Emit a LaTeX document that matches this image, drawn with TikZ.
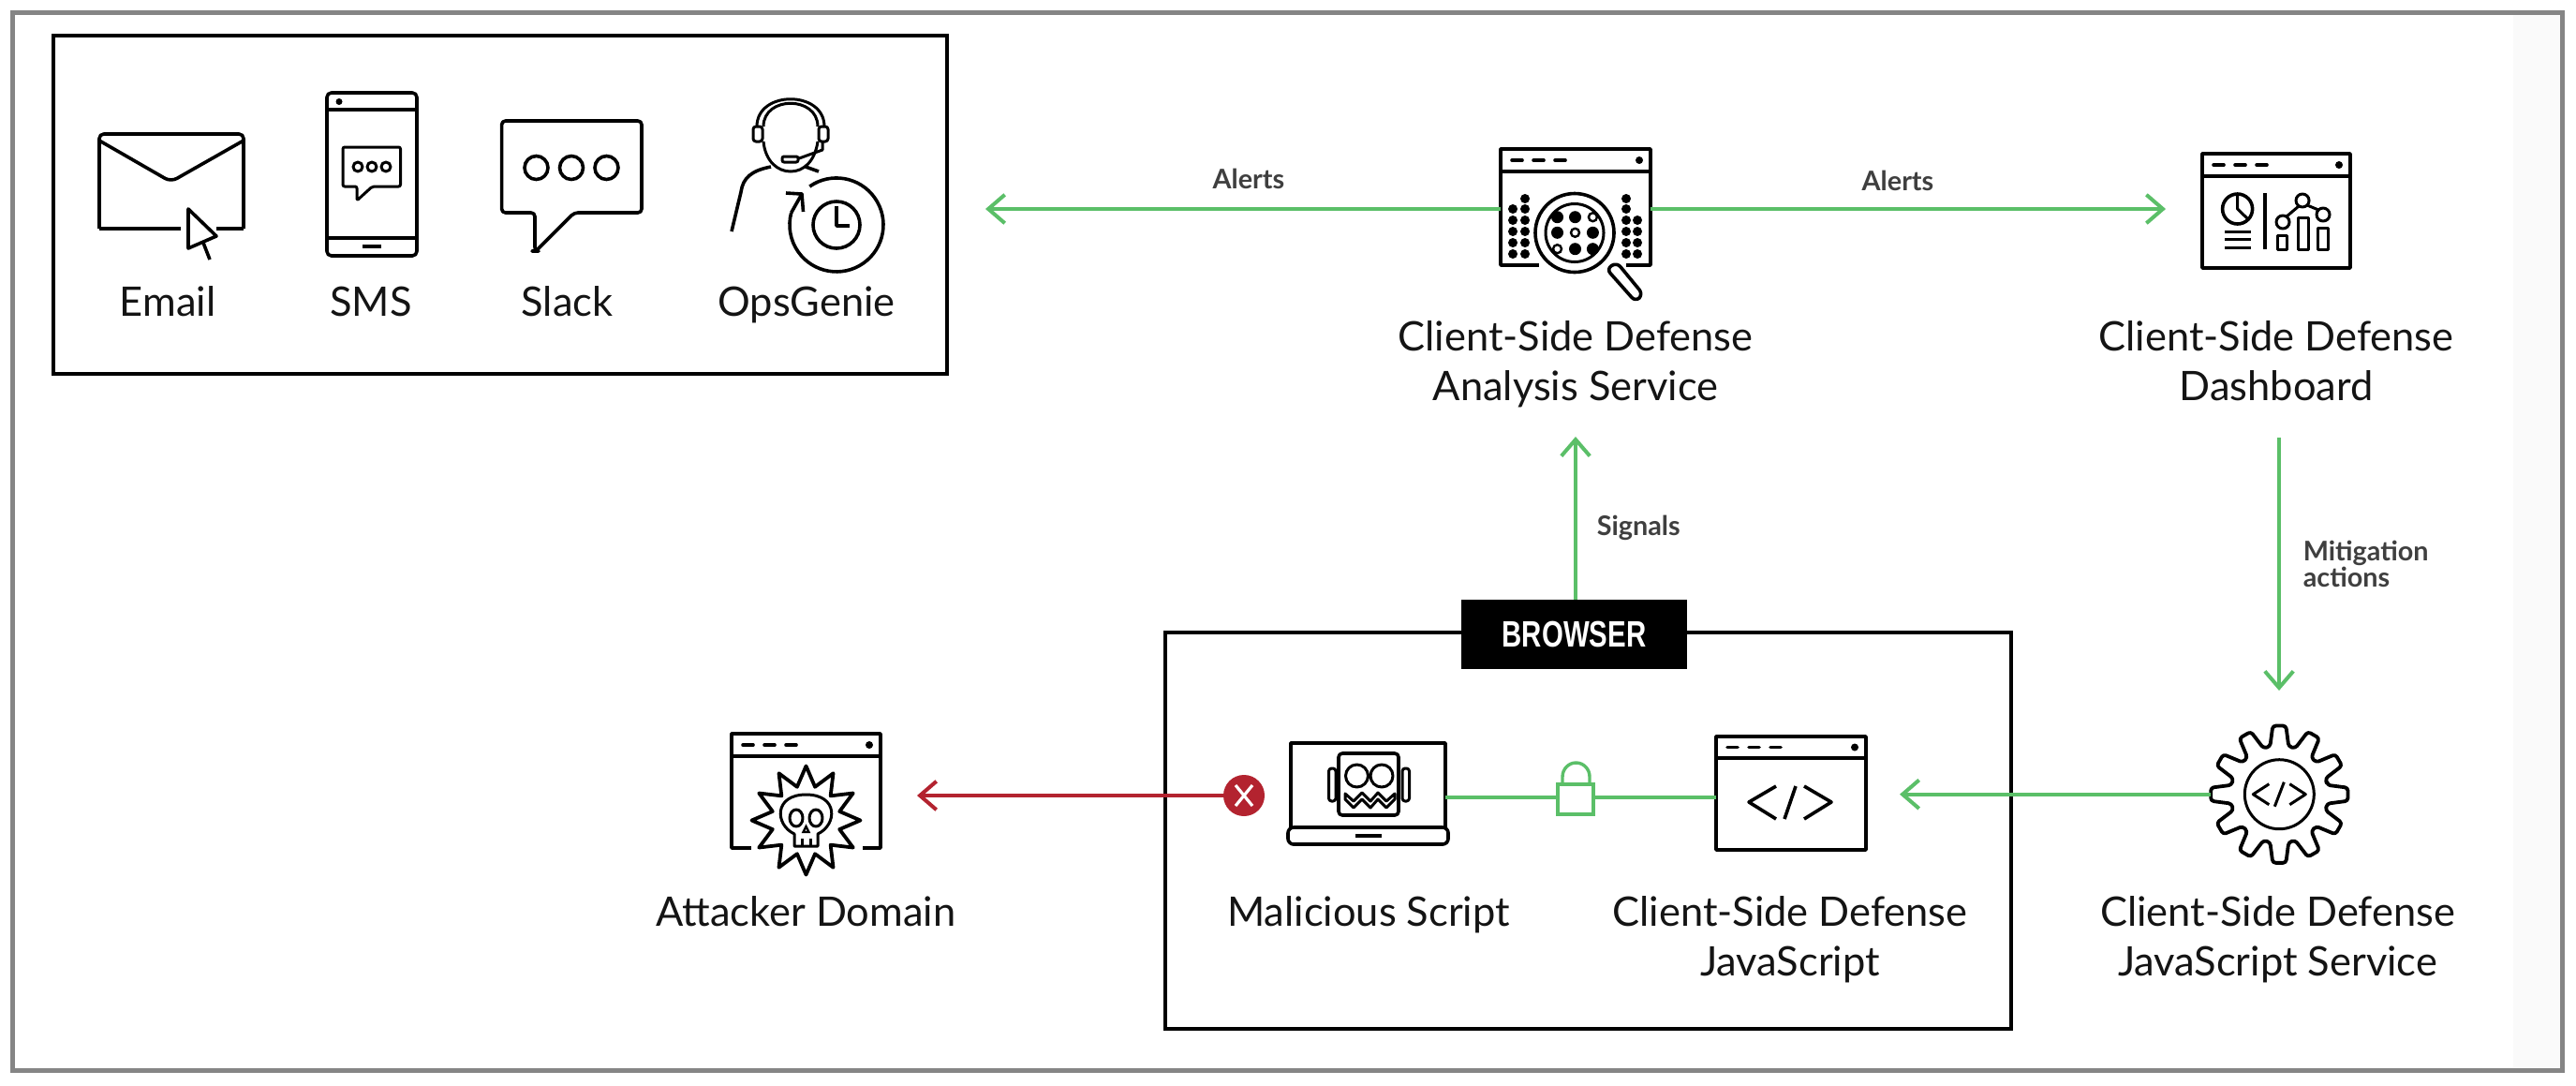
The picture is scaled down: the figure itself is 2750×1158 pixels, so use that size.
\documentclass[tikz,border=0pt]{standalone}
\usepackage{fontspec}
\setmainfont{Lato}
\newfontfamily\tagfont{Liberation Sans}[BoldFont={Liberation Sans Bold}]
\usetikzlibrary{arrows.meta}
\definecolor{gline}{HTML}{5BBF68}
\definecolor{rline}{HTML}{B3232F}
\definecolor{frameg}{HTML}{858585}
\definecolor{labelg}{HTML}{3F3F3F}
\definecolor{paleb}{HTML}{FAFAFA}
\tikzset{
  ico/.style={line width=0.9pt,draw=black,line join=round},
  thinico/.style={line width=0.75pt,draw=black,line join=round},
  boxline/.style={line width=1pt,draw=black},
  hook/.style 2 args={minimum width=#1*0.25pt,minimum height=#2*0.25pt,inner sep=0pt,outer sep=0pt},
  big/.style={font=\fontsize{10.85}{13.25}\selectfont,align=center,text=black!92,inner sep=0pt},
  small/.style={font=\fontsize{7.2}{7.2}\bfseries\selectfont,align=left,text=labelg,inner sep=0pt},
  garrow/.style={draw=gline,line width=1pt,-{Straight Barb[length=4.4pt,width=7.6pt,line width=1pt]}},
  gplain/.style={draw=gline,line width=1pt},
  rarrow/.style={draw=rline,line width=1pt,-{Straight Barb[length=4.4pt,width=7.6pt,line width=1pt]}},
}
% top bar of a window icon: left, top, right, bar y
\newcommand{\wintop}[4]{%
  \draw[ico] (#1,#4) -- (#1,#2) -- (#3,#2) -- (#3,#4);
  \draw[ico] (#1,#4) -- (#3,#4);
  \draw[line width=0.9pt,line cap=round] (#1+12,{(#2+#4)/2}) -- (#1+23,{(#2+#4)/2})
     (#1+35,{(#2+#4)/2}) -- (#1+46,{(#2+#4)/2}) (#1+58,{(#2+#4)/2}) -- (#1+69,{(#2+#4)/2});
  \fill (#3-12,{(#2+#4)/2}) circle (4);
}
\begin{document}
\begin{tikzpicture}[x=0.25pt,y=-0.25pt]
\useasboundingbox (0,0) rectangle (2750,1158);
\fill[white] (0,0) rectangle (2750,1158);
\fill[paleb] (2683,14) rectangle (2735,1142);
\draw[frameg,line width=1.25pt] (13.5,13.5) rectangle (2735.5,1142.5);

% channels box
\draw[boxline] (57,38) rectangle (1010.5,399);

% Email
\draw[ico,rounded corners=1.2pt] (106,244) -- (106,143) -- (260,143) -- (260,244);
\draw[ico] (106,244) -- (193,244) (231,244) -- (260,244);
\draw[ico,rounded corners=1.8pt] (106,150) -- (182.5,194) -- (260,150);
\draw[ico,fill=white] (201,223) -- (231,252) -- (201,265) -- cycle;
\draw[ico] (217,259) -- (224,277);
\node[big] (email) at (179,327) {\strut Email};

% SMS
\draw[ico,rounded corners=1.2pt] (349,99) rectangle (445,273);
\draw[ico] (349,117) -- (445,117) (349,254) -- (445,254);
\fill (362,108.5) circle (3.5);
\draw[line width=0.9pt] (387,263) -- (407,263);
\draw[thinico,rounded corners=0.5pt] (381,199) -- (366,199) -- (366,157) -- (427.5,157) -- (427.5,199) -- (397.5,199) -- (381,214) -- cycle;
\foreach \x in {382,397,412} \draw[thinico] (\x,178) circle (5);
\node[big] (sms) at (396,327) {\strut SMS};

% Slack
\draw[ico,rounded corners=1pt] (571,227) -- (535.6,227) -- (535.6,129) -- (685,129) -- (685,227) -- (613,227) -- (572,268) -- (571,268) -- cycle;
\foreach \x in {572.5,610,647.5} \draw[ico] (\x,179) circle (12.5);
\node[big] (slack) at (605.6,327) {\strut Slack};

% OpsGenie
\draw[thinico] (808,135) .. controls (808,96) and (880,96) .. (880,135);
\draw[thinico] (815,135) .. controls (815,102) and (873,102) .. (873,135);
\draw[thinico,rounded corners=0.75pt] (804,135) rectangle (814,151);
\draw[thinico,rounded corners=0.75pt] (874,135) rectangle (884,151);
\draw[thinico] (815,151) .. controls (817,172) and (830,183) .. (844,183) .. controls (858,183) and (870,172) .. (873,151);
\draw[thinico] (878,151) -- (878,160) -- (853,169);
\draw[thinico,fill=white,rounded corners=0.5pt] (835,167) rectangle (852,173);
\draw[ico] (823,178) .. controls (802,182) and (793,190) .. (791,205) -- (781,247);
\draw[ico] (860,178) -- (874,183);
\draw[ico] (864.3,199) arc[start angle=-125,end angle=195,radius=50];
\draw[ico] (844.7,227) -- (856,207) -- (839,206);
\draw[ico] (856,207) -- (857.5,226);
\draw[ico] (893,240) circle (25);
\draw[ico] (893,220) -- (893,241) -- (907,241);
\node[big] (ops) at (861,327) {\strut OpsGenie};

% Analysis service icon
\node[hook={160}{120}] (analysis) at (1682,223) {};
\wintop{1602}{159}{1762}{183}
\draw[ico] (1602,183) -- (1602,283) -- (1643,283) (1736,283) -- (1762,283) -- (1762,183);
\foreach \y in {223,235,247,259,271} \fill (1615,\y) circle (5);
\foreach \y in {212,223,235,247,259,271} \fill (1628,\y) circle (5);
\foreach \y in {212,223,235,247,259,271} \fill (1736,\y) circle (5);
\foreach \y in {235,247,259,271} \fill (1748,\y) circle (5);
\draw[ico,fill=white] (1681,248.5) circle (42);
\draw[thinico] (1681,248.5) circle (31);
\foreach \x/\y in {1662.5/231.7,1681.5/231.7,1662.5/248.3,1700.4/248.3,1681.5/265.7,1700.4/265.7}
  \fill (\x,\y) circle (6.5);
\foreach \x/\y in {1700.4/231.7,1681.5/248.3,1662.5/265.7}
  \draw[line width=0.6pt] (\x,\y) circle (4.5);
\draw[ico,fill=white,rounded corners=1.5pt] (1715,287) -- (1726,280) -- (1754,314) -- (1746,322) -- cycle;
\node[big] (analysistxt) at (1682,390) {\strut Client-Side Defense\\\strut Analysis Service};

% Dashboard icon
\node[hook={158}{122}] (dash) at (2430,223) {};
\wintop{2351}{164}{2509}{188}
\draw[ico] (2351,188) -- (2351,286) -- (2509,286) -- (2509,188);
\draw[ico] (2388.6,223) circle (16);
\draw[thinico] (2388.6,207) -- (2388.6,223) -- (2400,234);
\draw[thinico] (2375,247) -- (2403,247) (2375,255) -- (2403,255) (2375,264) -- (2403,264);
\draw[ico] (2418,206) -- (2418,266);
\draw[thinico] (2431,251) rectangle (2441,266) (2453,232) rectangle (2464,266) (2474,243) rectangle (2485,266);
\draw[thinico] (2437,237) circle (7) (2458,214) circle (7) (2480,229) circle (7);
\draw[thinico] (2441,231) -- (2454,220) (2463,219) -- (2475,224);
\node[big] (dashtxt) at (2430,390) {\strut Client-Side Defense\\\strut Dashboard};

% Alert arrows
\coordinate (alertL) at (1052,223);
\coordinate (alertR) at (2312,223);
\draw[garrow] (analysis.west) -- (alertL);
\draw[garrow] (analysis.east) -- (alertR);
\node[small] (al1) at (1333,191) {Alerts};
\node[small] (al2) at (2026,193) {Alerts};

% Browser box
\draw[boxline] (1244,675) rectangle (2147,1098);
\node[hook={241}{74},fill=black,text=white] (browser) at (1680.5,677) {\tagfont\fontsize{9.8}{9.8}\bfseries\selectfont\scalebox{0.75}[1]{BROWSER}};

% Signals
\coordinate (sigtip) at (1682,466);
\draw[garrow] (browser.north -| sigtip) -- (sigtip);
\node[small,anchor=west] (signals) at (1704,563) {Signals};

% Mitigation
\coordinate (mitstart) at (2433,467);
\coordinate (mittip) at (2433,737);
\draw[garrow] (mitstart) -- (mittip);
\node[small,anchor=west,font=\fontsize{7.2}{7}\bfseries\selectfont] (mitig) at (2458,602) {Mitigation\\actions};

% Gear (JS service)
\node[hook={147}{147}] (gear) at (2433.3,847.7) {};
\begin{scope}[shift={(2433.3,847.7)}]
\draw[ico,rounded corners=0.8pt,line width=0.95pt]
  (-11:52) \foreach \a in {0,30,...,330} { -- (\a-11:52) -- (\a-5.5:73.5) -- (\a+5.5:73.5) -- (\a+11:52) } -- cycle;
\draw[thinico] (0,0) circle (37);
\draw[thinico] (-11,-11) -- (-28,0) -- (-11,11) (-5,13) -- (5,-13) (11,-11) -- (28,0) -- (11,11);
\end{scope}
\node[big] (geartxt) at (2431.5,1004) {\strut Client-Side Defense\\\strut JavaScript Service};

% JS icon
\node[hook={160}{122}] (js) at (1912,851) {};
\wintop{1832}{786}{1992}{809}
\draw[ico] (1832,809) -- (1832,907) -- (1992,907) -- (1992,809);
\draw[ico] (1896,839) -- (1867,856) -- (1896,874) (1917,839) -- (1905,874) (1926,839) -- (1955,856) -- (1926,874);
\node[big] (jstxt) at (1911,1004) {\strut Client-Side Defense\\\strut JavaScript};

% Lock
\node[hook={38}{32},draw=gline,line width=0.85pt] (lock) at (1682,853) {};
\draw[gplain,line width=0.85pt] (1668,837) -- (1668,829) arc[start angle=180,end angle=360,x radius=14.5,y radius=15] -- (1697,837);

% Laptop
\node[hook={165}{100}] (laptop) at (1460.5,851) {};
\draw[ico] (1378,883) -- (1378,793) -- (1543,793) -- (1543,883);
\draw[ico,rounded corners=1.5pt] (1375,883) rectangle (1546,901);
\draw[line width=0.9pt] (1447,892) -- (1475,892);
\draw[ico,rounded corners=1pt] (1429,804) rectangle (1493,870);
\draw[thinico,rounded corners=0.75pt] (1418.5,820) rectangle (1426,855);
\draw[thinico,rounded corners=0.75pt] (1497,820) rectangle (1504.5,855);
\draw[thinico] (1448.5,828) circle (12) (1475,828) circle (12);
\draw[thinico] (1436,847) -- (1445,855) -- (1454,846) -- (1463,855) -- (1471,846) -- (1480,855) -- (1489,847)
   -- (1489,853) -- (1480,862) -- (1471,853) -- (1463,862) -- (1454,853) -- (1445,862) -- (1436,853) -- cycle;
\node[big] (maltxt) at (1461,977.5) {\strut Malicious Script};

% green links
\draw[gplain] (laptop.east) -- (laptop.east -| lock.west);
\draw[gplain] (js.west -| lock.east) -- (js.west);
\coordinate (jstip) at (2028,847.7);
\draw[garrow] (gear.west) -- (jstip);

% Attacker
\node[hook={159}{122}] (att) at (860.5,849) {};
\wintop{781}{783}{940}{807}
\draw[ico] (781,807) -- (781,905) -- (802,905) (921,905) -- (940,905) -- (940,807);
\begin{scope}[shift={(860.5,875.5)}]
\draw[ico,fill=white,line width=0.95pt] (90:58) \foreach \a in {0,30,...,330} { -- (\a+90:58) -- (\a+105:37) } -- cycle;
\end{scope}
\draw[thinico] (848,890) .. controls (827,880) and (826,848) .. (860.5,848) .. controls (895,848) and (894,880) .. (873,890) -- (873,903) -- (848,903) -- cycle;
\draw[thinico] (856,895) -- (856,903) (865,895) -- (865,903);
\draw[thinico] (850,873) ellipse (7 and 9) (871,873) ellipse (7 and 9);
\draw[line width=0.6pt] (860.5,882) -- (857.5,888) -- (863.5,888) -- cycle;
\node[big] (atttxt) at (860.5,977.5) {\strut Attacker Domain};

% red connector
\node[circle,fill=rline,minimum size=44*0.25pt,inner sep=0pt,outer sep=0pt] (redx) at (1328,849) {};
\draw[white,line width=0.8pt] (1319,838) -- (1337,860) (1337,838) -- (1319,860);
\coordinate (atttip) at (979,849);
\draw[rarrow] (redx.west) -- (atttip);
\end{tikzpicture}
\end{document}
